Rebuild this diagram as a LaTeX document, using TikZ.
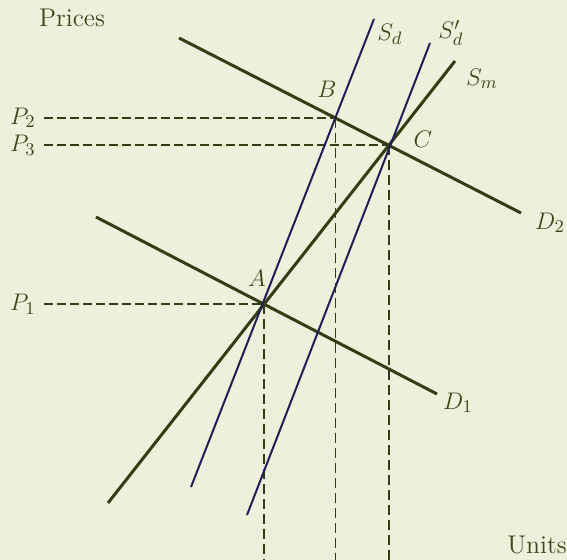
\documentclass[tikz,border=0pt]{standalone}
\usepackage{tikz}
\definecolor{bg}{HTML}{EEF0DC}
\definecolor{olive}{HTML}{323D12}
\definecolor{navy}{HTML}{1F1F55}
\definecolor{txt}{HTML}{3A4818}
\begin{document}
\begin{tikzpicture}[x=0.5pt,y=-0.5pt,
  lbl/.style={text=txt,font=\fontsize{12.8}{15}\selectfont,inner sep=2pt},
  dem/.style={draw=olive,line width=1.5pt},
  sup/.style={draw=navy,line width=1pt},
  hguide/.style={draw=olive,line width=0.9pt,dash pattern=on 4.5pt off 2pt},
  vguide/.style={draw=olive,line width=0.7pt,dash pattern=on 5pt off 2.5pt}]
\fill[bg] (0,0) rectangle (567,560);
\useasboundingbox (0,0) rectangle (567,560);
% curve end points
\coordinate (d2s) at (179,38);  \coordinate (d2e) at (521,213);
\coordinate (d1s) at (96,217);  \coordinate (d1e) at (437,394);
\coordinate (sms) at (108,503); \coordinate (sme) at (455,61);
\coordinate (sds) at (191,487); \coordinate (sde) at (374,19);
\coordinate (sps) at (247,515); \coordinate (spe) at (430,43);
% equilibrium points
\coordinate (A) at (intersection of d1s--d1e and sms--sme);
\coordinate (B) at (intersection of d2s--d2e and sds--sde);
\coordinate (C) at (intersection of d2s--d2e and sms--sme);
\coordinate (Ab) at (A |- 0,560);
\coordinate (Bb) at (B |- 0,560);
\coordinate (Cb) at (C |- 0,560);
% price labels
\node[lbl,anchor=east,inner sep=4pt] (P1) at (A -| 44,0) {$P_1$};
\node[lbl,anchor=east,inner sep=4pt] (P2) at (B -| 44,0) {$P_2$};
\node[lbl,anchor=east,inner sep=4pt] (P3) at (C -| 44,0) {$P_3$};
% guides
\draw[hguide] (P1.east) -- (A);
\draw[hguide] (P2.east) -- (B);
\draw[hguide] (P3.east) -- (C);
\draw[vguide] (A) -- (Ab);
\draw[vguide] (B) -- (Bb);
\draw[vguide] (C) -- (Cb);
% curves
\draw[dem] (d2s) -- (d2e);
\draw[dem] (d1s) -- (d1e);
\draw[dem] (sms) -- (sme);
\draw[sup] (sds) -- (sde);
\draw[sup] (sps) -- (spe);
% labels
\node[lbl] (prices) at (72,18) {Prices};
\node[lbl] (units) at (537,545) {Units};
\node[lbl] (lSd) at (390,34) {$S_d$};
\node[lbl] (lSp) at (451,33) {$S_d'$};
\node[lbl] (lSm) at (482,79) {$S_m$};
\node[lbl] (lD2) at (550,223) {$D_2$};
\node[lbl] (lD1) at (458,403) {$D_1$};
\node[lbl] (lA) at (257,278) {$A$};
\node[lbl] (lB) at (327,89) {$B$};
\node[lbl] (lC) at (423,139) {$C$};
\end{tikzpicture}
\end{document}
